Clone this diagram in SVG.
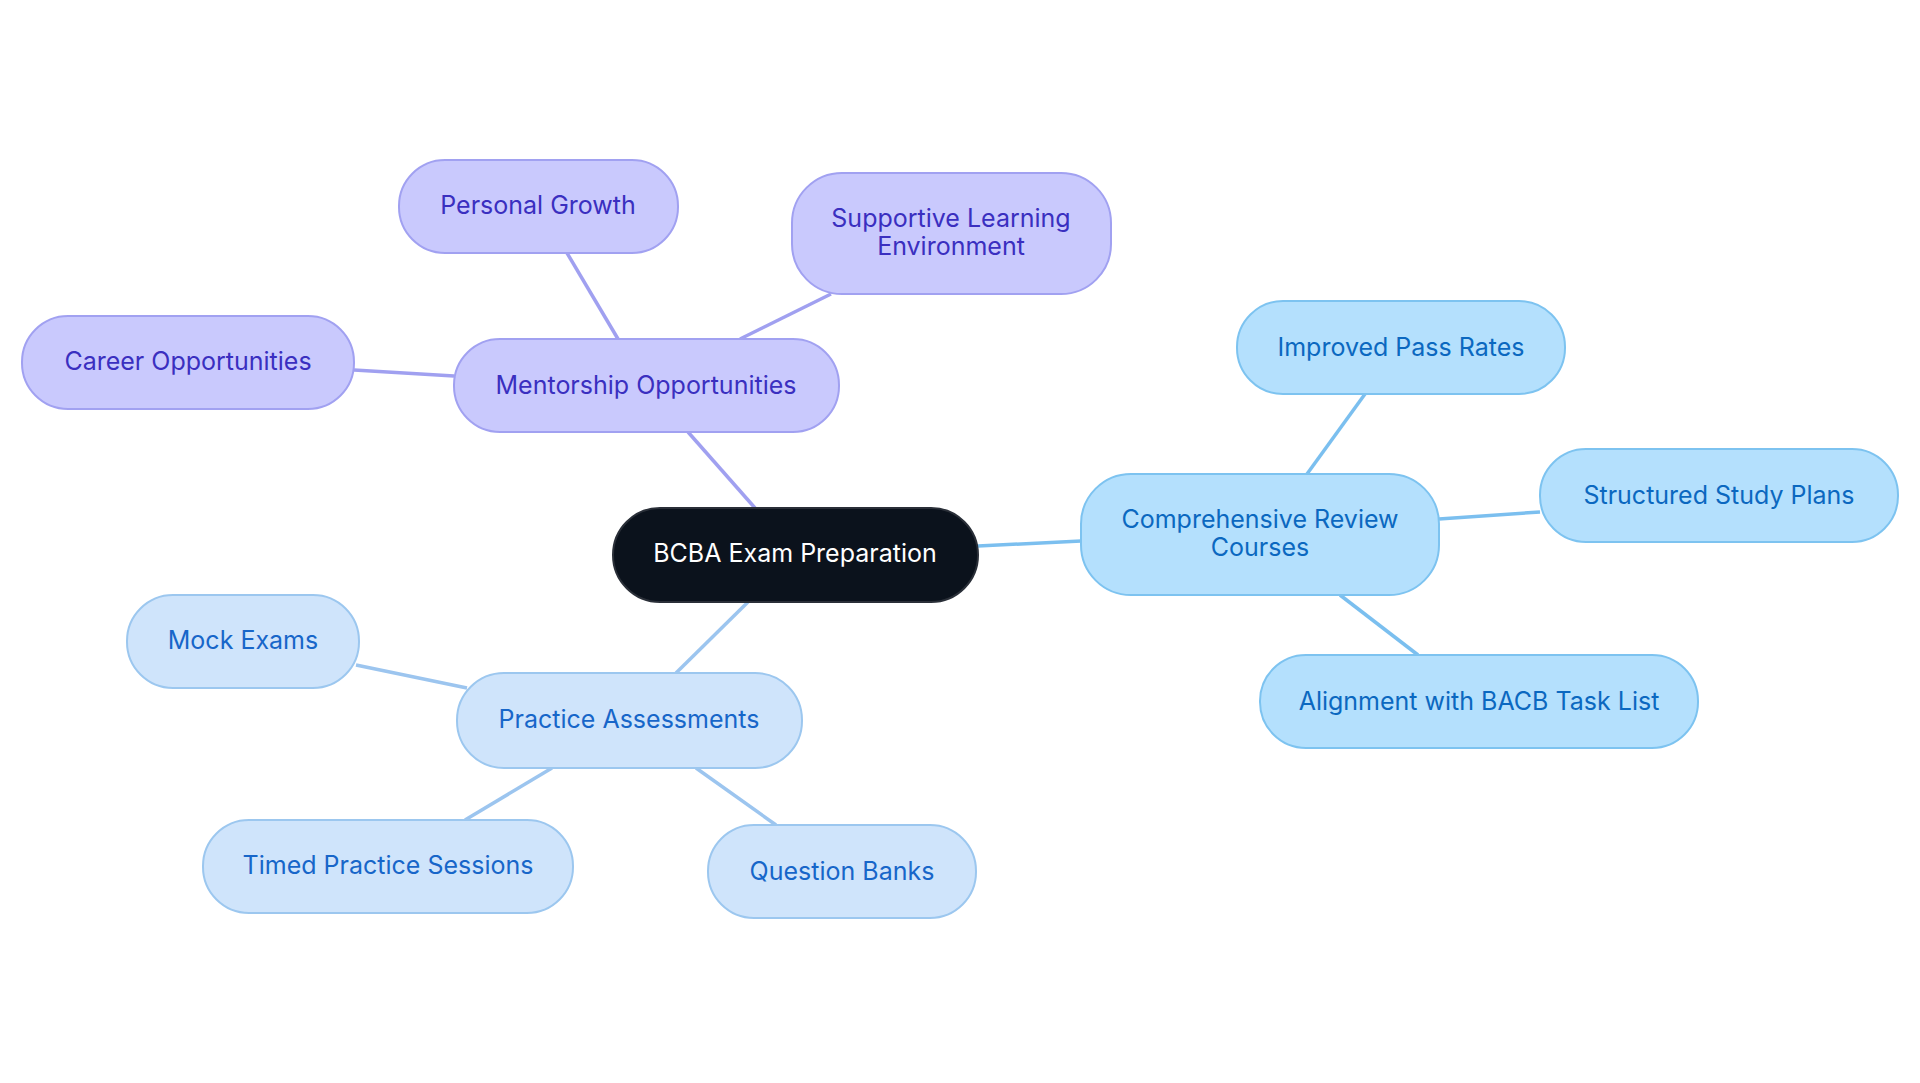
<svg xmlns="http://www.w3.org/2000/svg" width="1920" height="1083" viewBox="0 0 1920 1083">
<style>
text{font-family:Inter,"Noto Sans",sans-serif;font-size:25px;text-anchor:middle;dominant-baseline:central}
.p rect{fill:#c9c9fd;stroke:#a1a1f1;stroke-width:2}.p text{fill:#3a2fc0}
.b rect{fill:#b4e0fd;stroke:#7dc3f0;stroke-width:2}.b text{fill:#0b68c0}
.q rect{fill:#cfe4fb;stroke:#9cc7ef;stroke-width:2}.q text{fill:#1766c9}
#conn line{stroke-width:3.5;fill:none}
</style>
<rect width="1920" height="1083" fill="#fff"/>
<g id="conn">
<g stroke="#a0a0f0"><line x1="755" y1="508" x2="688" y2="432"/><line x1="618" y1="339" x2="567" y2="253"/><line x1="740" y1="339" x2="831" y2="294"/><line x1="454" y1="376" x2="354" y2="370"/></g>
<g stroke="#7bbfef"><line x1="978" y1="546" x2="1081" y2="541"/><line x1="1307" y1="474" x2="1365" y2="394"/><line x1="1439" y1="519" x2="1540" y2="512"/><line x1="1340" y1="595" x2="1418" y2="655"/></g>
<g stroke="#9cc5ef"><line x1="748" y1="602" x2="676" y2="673"/><line x1="467" y1="688" x2="356" y2="665"/><line x1="552" y1="768" x2="465" y2="820"/><line x1="696" y1="768" x2="776" y2="825"/></g>
</g>
<g id="center"><rect x="613" y="508" width="365" height="94" rx="47" fill="#0b121c" stroke="#2a2f38" stroke-width="2"/><text x="795" y="553" fill="#fff">BCBA Exam Preparation</text></g>
<g id="mentorship" class="p"><rect x="454" y="339" width="385" height="93" rx="46"/><text x="646" y="385">Mentorship Opportunities</text></g>
<g id="personal" class="p"><rect x="399" y="160" width="279" height="93" rx="46"/><text x="538" y="205">Personal Growth</text></g>
<g id="supportive" class="p"><rect x="792" y="173" width="319" height="121" rx="50"/><text x="951" y="218">Supportive Learning</text><text x="951" y="246">Environment</text></g>
<g id="career" class="p"><rect x="22" y="316" width="332" height="93" rx="46"/><text x="188" y="361">Career Opportunities</text></g>
<g id="comprehensive" class="b"><rect x="1081" y="474" width="358" height="121" rx="50"/><text x="1260" y="519">Comprehensive Review</text><text x="1260" y="547">Courses</text></g>
<g id="improved" class="b"><rect x="1237" y="301" width="328" height="93" rx="46"/><text x="1401" y="347">Improved Pass Rates</text></g>
<g id="structured" class="b"><rect x="1540" y="449" width="358" height="93" rx="46"/><text x="1719" y="495">Structured Study Plans</text></g>
<g id="alignment" class="b"><rect x="1260" y="655" width="438" height="93" rx="46"/><text x="1479" y="701">Alignment with BACB Task List</text></g>
<g id="practice" class="q"><rect x="457" y="673" width="345" height="95" rx="47"/><text x="629" y="719">Practice Assessments</text></g>
<g id="mock" class="q"><rect x="127" y="595" width="232" height="93" rx="46"/><text x="243" y="640">Mock Exams</text></g>
<g id="timed" class="q"><rect x="203" y="820" width="370" height="93" rx="46"/><text x="388" y="865">Timed Practice Sessions</text></g>
<g id="question" class="q"><rect x="708" y="825" width="268" height="93" rx="46"/><text x="842" y="871">Question Banks</text></g>
</svg>
